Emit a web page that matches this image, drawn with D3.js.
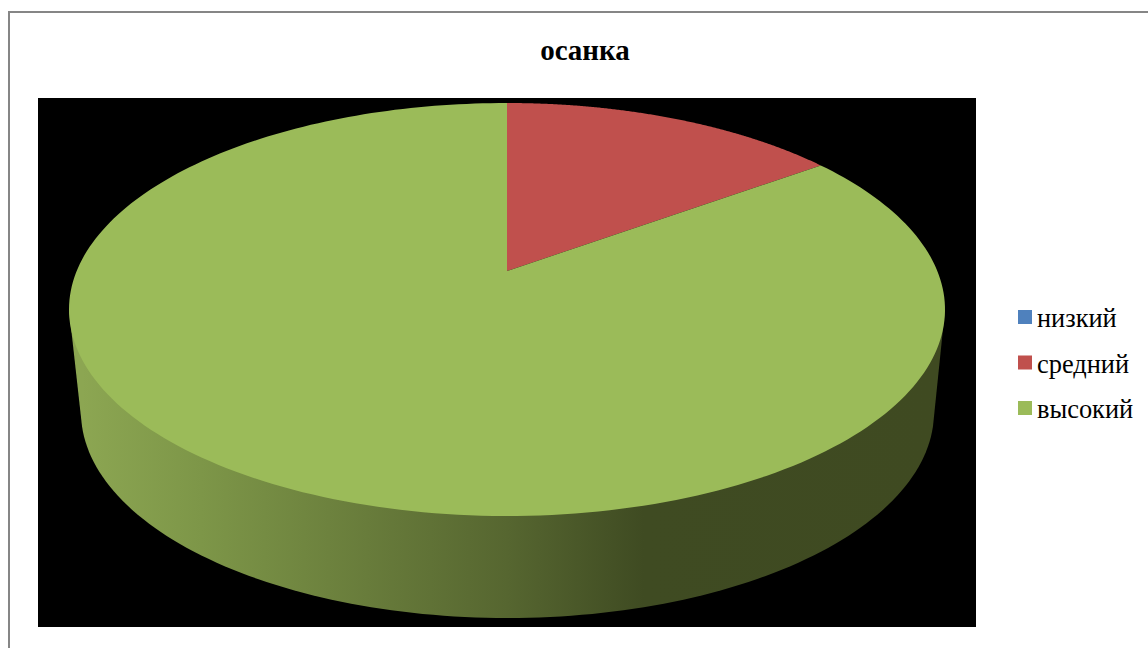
<!DOCTYPE html>
<html><head><meta charset="utf-8">
<script src="https://cdn.jsdelivr.net/npm/d3@7/dist/d3.min.js"></script>
<style>html,body{margin:0;padding:0;background:#fff;overflow:hidden}svg{display:block}</style>
</head><body><svg id="c" width="1148" height="648"></svg>
<script>
const titleText = "осанка";
const categories = ["низкий", "средний", "высокий"];
const values = [0, 15, 85];
const colors = ["#4F81BD", "#C0504D", "#9BBB59"];
const wallOffsets = [0, 0.14, 0.29, 0.5, 0.66, 1];
const wallColors = ["#8ca652", "#7d9648", "#6d823e", "#566630", "#3f4b22", "#3f4a21"];

const svg = d3.select("#c");
const FONT = "'Liberation Serif','Times New Roman',serif";

svg.append("rect").attr("x", 9).attr("y", 12).attr("width", 1160).attr("height", 660)
  .attr("fill", "#fff").attr("stroke", "#868686").attr("stroke-width", 2);
svg.append("rect").attr("x", 38).attr("y", 98).attr("width", 938).attr("height", 529).attr("fill", "#000");

// unit-circle coordinates -> page pixels
const topX = d3.scaleLinear().domain([-1, 1]).range([69, 945]);
const topY = d3.scaleLinear().domain([-1, 1]).range([103, 516]);
const baseX = d3.scaleLinear().domain([-1, 1]).range([81, 934]);
const baseY = d3.scaleLinear().domain([-1, 1]).range([206, 618]);
// perspective: the pie's centre sits above the centre of the projected ellipse
const e0 = (271 - topY(0)) / (topY(1) - topY(0));
function persp(a) { // a = clockwise from 12 o'clock
  const u = Math.sin(a), v = -Math.cos(a), d = 1 + e0 * v;
  return [u * Math.sqrt(1 - e0 * e0) / d, (v + e0) / d];
}
const line = d3.line();
const sweep = (n, a0, a1) => d3.range(n + 1).map(i => a0 + (a1 - a0) * i / n);

// side wall: runs under the top face so no seam shows along the rim
const grad = svg.append("defs").append("linearGradient").attr("id", "wall")
  .attr("gradientUnits", "userSpaceOnUse").attr("x1", 82).attr("x2", 933).attr("y1", 0).attr("y2", 0);
grad.selectAll("stop").data(wallOffsets).join("stop")
  .attr("offset", d => d).attr("stop-color", (d, i) => wallColors[i]);
const tStart = 0.07;
const baseEdge = sweep(120, Math.PI - tStart, tStart).map(t => [baseX(Math.cos(t)), baseY(Math.sin(t))]);
const rim = [[topX(1), topY(0)], [topX(-1), topY(0)]];
svg.append("path").attr("d", line(rim.concat(baseEdge)) + "Z").attr("fill", "url(#wall)");

// top face
const pie = d3.pie().sort(null).value(d => d)(values);
svg.append("g").selectAll("path").data(pie).join("path")
  .attr("fill", (d, i) => colors[i])
  .attr("d", d => {
    if (d.endAngle <= d.startAngle) return null;
    const pts = sweep(240, d.startAngle, d.endAngle).map(persp).map(p => [topX(p[0]), topY(p[1])]);
    return line([[topX(0), 271]].concat(pts)) + "Z";
  });

// title
svg.append("text").attr("x", 585).attr("y", 60).attr("text-anchor", "middle")
  .attr("font-family", FONT).attr("font-weight", "bold").attr("font-size", 29).attr("fill", "#000").text(titleText);

// legend
const legY = d3.scalePoint().domain(categories).range([317, 408]);
const leg = svg.append("g").selectAll("g").data(categories).join("g");
leg.append("rect").attr("x", 1018).attr("y", d => legY(d) - 7).attr("width", 14).attr("height", 14)
  .attr("fill", (d, i) => colors[i]);
leg.append("text").attr("x", 1037).attr("y", d => legY(d) + 10)
  .attr("font-family", FONT).attr("font-size", 26.4).attr("fill", "#000").text(d => d);
</script></body></html>
